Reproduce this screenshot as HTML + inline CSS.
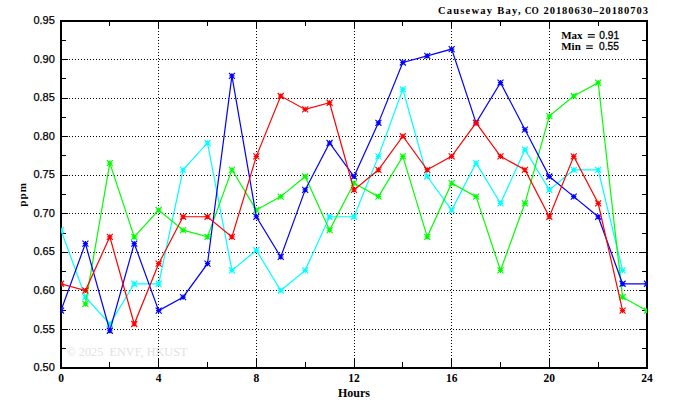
<!DOCTYPE html>
<html><head><meta charset="utf-8"><title>Causeway Bay CO</title><style>html,body{margin:0;padding:0;background:#fff;width:674px;height:409px;overflow:hidden;}svg{display:block;font-family:"Liberation Sans",sans-serif;}</style></head><body>
<svg width="674" height="409" viewBox="0 0 674 409" shape-rendering="auto">
<text x="66.5" y="356.3" font-family="Liberation Serif" font-size="13.3" fill="#e2e2e2" textLength="121" lengthAdjust="spacingAndGlyphs">&#169; 2025&#160;&#160;ENVF, HKUST</text>
<g stroke="#000" stroke-width="1" stroke-dasharray="1 2" shape-rendering="crispEdges"><line x1="158.5" y1="28" x2="158.5" y2="360" /><line x1="256.5" y1="28" x2="256.5" y2="360" /><line x1="354.5" y1="28" x2="354.5" y2="360" /><line x1="451.5" y1="28" x2="451.5" y2="360" /><line x1="549.5" y1="28" x2="549.5" y2="360" /><line x1="69" y1="59.5" x2="640" y2="59.5" /><line x1="69" y1="98.5" x2="640" y2="98.5" /><line x1="69" y1="136.5" x2="640" y2="136.5" /><line x1="69" y1="175.5" x2="640" y2="175.5" /><line x1="69" y1="213.5" x2="640" y2="213.5" /><line x1="69" y1="252.5" x2="640" y2="252.5" /><line x1="69" y1="290.5" x2="640" y2="290.5" /><line x1="69" y1="329.5" x2="640" y2="329.5" /></g>
<g stroke="#000" stroke-width="1" shape-rendering="crispEdges"><line x1="109.5" y1="22" x2="109.5" y2="26" /><line x1="109.5" y1="367" x2="109.5" y2="362" /><line x1="158.5" y1="22" x2="158.5" y2="29" /><line x1="158.5" y1="367" x2="158.5" y2="359" /><line x1="207.5" y1="22" x2="207.5" y2="26" /><line x1="207.5" y1="367" x2="207.5" y2="362" /><line x1="256.5" y1="22" x2="256.5" y2="29" /><line x1="256.5" y1="367" x2="256.5" y2="359" /><line x1="305.5" y1="22" x2="305.5" y2="26" /><line x1="305.5" y1="367" x2="305.5" y2="362" /><line x1="354.5" y1="22" x2="354.5" y2="29" /><line x1="354.5" y1="367" x2="354.5" y2="359" /><line x1="402.5" y1="22" x2="402.5" y2="26" /><line x1="402.5" y1="367" x2="402.5" y2="362" /><line x1="451.5" y1="22" x2="451.5" y2="29" /><line x1="451.5" y1="367" x2="451.5" y2="359" /><line x1="500.5" y1="22" x2="500.5" y2="26" /><line x1="500.5" y1="367" x2="500.5" y2="362" /><line x1="549.5" y1="22" x2="549.5" y2="29" /><line x1="549.5" y1="367" x2="549.5" y2="359" /><line x1="598.5" y1="22" x2="598.5" y2="26" /><line x1="598.5" y1="367" x2="598.5" y2="362" /><line x1="62" y1="40.5" x2="66" y2="40.5" /><line x1="646" y1="40.5" x2="642" y2="40.5" /><line x1="62" y1="59.5" x2="68" y2="59.5" /><line x1="646" y1="59.5" x2="640" y2="59.5" /><line x1="62" y1="78.5" x2="66" y2="78.5" /><line x1="646" y1="78.5" x2="642" y2="78.5" /><line x1="62" y1="98.5" x2="68" y2="98.5" /><line x1="646" y1="98.5" x2="640" y2="98.5" /><line x1="62" y1="117.5" x2="66" y2="117.5" /><line x1="646" y1="117.5" x2="642" y2="117.5" /><line x1="62" y1="136.5" x2="68" y2="136.5" /><line x1="646" y1="136.5" x2="640" y2="136.5" /><line x1="62" y1="155.5" x2="66" y2="155.5" /><line x1="646" y1="155.5" x2="642" y2="155.5" /><line x1="62" y1="175.5" x2="68" y2="175.5" /><line x1="646" y1="175.5" x2="640" y2="175.5" /><line x1="62" y1="194.5" x2="66" y2="194.5" /><line x1="646" y1="194.5" x2="642" y2="194.5" /><line x1="62" y1="213.5" x2="68" y2="213.5" /><line x1="646" y1="213.5" x2="640" y2="213.5" /><line x1="62" y1="233.5" x2="66" y2="233.5" /><line x1="646" y1="233.5" x2="642" y2="233.5" /><line x1="62" y1="252.5" x2="68" y2="252.5" /><line x1="646" y1="252.5" x2="640" y2="252.5" /><line x1="62" y1="271.5" x2="66" y2="271.5" /><line x1="646" y1="271.5" x2="642" y2="271.5" /><line x1="62" y1="290.5" x2="68" y2="290.5" /><line x1="646" y1="290.5" x2="640" y2="290.5" /><line x1="62" y1="310.5" x2="66" y2="310.5" /><line x1="646" y1="310.5" x2="642" y2="310.5" /><line x1="62" y1="329.5" x2="68" y2="329.5" /><line x1="646" y1="329.5" x2="640" y2="329.5" /><line x1="62" y1="348.5" x2="66" y2="348.5" /><line x1="646" y1="348.5" x2="642" y2="348.5" /></g>
<rect x="61" y="21" width="586" height="347" fill="none" stroke="#000" stroke-width="2" shape-rendering="crispEdges"/>
<defs><clipPath id="pc"><rect x="61" y="21" width="586" height="347"/></clipPath></defs><g clip-path="url(#pc)">
<path d="M61.00,230.14 L85.42,297.19 L109.83,324.02 L134.25,283.78 L158.67,283.78 L183.08,169.79 L207.50,142.97 L231.92,270.37 L256.33,250.26 L280.75,290.49 L305.17,270.37 L329.58,216.73 L354.00,216.73 L378.42,156.38 L402.83,89.33 L427.25,176.50 L451.67,210.03 L476.08,163.09 L500.50,203.32 L524.92,149.68 L549.33,189.91 L573.75,169.79 L598.17,169.79 L622.58,270.37" fill="none" stroke="#00ffff" stroke-width="1.2" stroke-linejoin="miter"/>
<path d="M58.40,230.14H63.60M61.00,227.54V232.74M58.00,227.14L64.00,233.14M58.00,233.14L64.00,227.14M82.82,297.19H88.02M85.42,294.59V299.79M82.42,294.19L88.42,300.19M82.42,300.19L88.42,294.19M107.23,324.02H112.43M109.83,321.42V326.62M106.83,321.02L112.83,327.02M106.83,327.02L112.83,321.02M131.65,283.78H136.85M134.25,281.18V286.38M131.25,280.78L137.25,286.78M131.25,286.78L137.25,280.78M156.07,283.78H161.27M158.67,281.18V286.38M155.67,280.78L161.67,286.78M155.67,286.78L161.67,280.78M180.48,169.79H185.68M183.08,167.19V172.39M180.08,166.79L186.08,172.79M180.08,172.79L186.08,166.79M204.90,142.97H210.10M207.50,140.37V145.57M204.50,139.97L210.50,145.97M204.50,145.97L210.50,139.97M229.32,270.37H234.52M231.92,267.77V272.97M228.92,267.37L234.92,273.37M228.92,273.37L234.92,267.37M253.73,250.26H258.93M256.33,247.66V252.86M253.33,247.26L259.33,253.26M253.33,253.26L259.33,247.26M278.15,290.49H283.35M280.75,287.89V293.09M277.75,287.49L283.75,293.49M277.75,293.49L283.75,287.49M302.57,270.37H307.77M305.17,267.77V272.97M302.17,267.37L308.17,273.37M302.17,273.37L308.17,267.37M326.98,216.73H332.18M329.58,214.13V219.33M326.58,213.73L332.58,219.73M326.58,219.73L332.58,213.73M351.40,216.73H356.60M354.00,214.13V219.33M351.00,213.73L357.00,219.73M351.00,219.73L357.00,213.73M375.82,156.38H381.02M378.42,153.78V158.98M375.42,153.38L381.42,159.38M375.42,159.38L381.42,153.38M400.23,89.33H405.43M402.83,86.73V91.93M399.83,86.33L405.83,92.33M399.83,92.33L405.83,86.33M424.65,176.50H429.85M427.25,173.90V179.10M424.25,173.50L430.25,179.50M424.25,179.50L430.25,173.50M449.07,210.03H454.27M451.67,207.43V212.63M448.67,207.03L454.67,213.03M448.67,213.03L454.67,207.03M473.48,163.09H478.68M476.08,160.49V165.69M473.08,160.09L479.08,166.09M473.08,166.09L479.08,160.09M497.90,203.32H503.10M500.50,200.72V205.92M497.50,200.32L503.50,206.32M497.50,206.32L503.50,200.32M522.32,149.68H527.52M524.92,147.08V152.28M521.92,146.68L527.92,152.68M521.92,152.68L527.92,146.68M546.73,189.91H551.93M549.33,187.31V192.51M546.33,186.91L552.33,192.91M546.33,192.91L552.33,186.91M571.15,169.79H576.35M573.75,167.19V172.39M570.75,166.79L576.75,172.79M570.75,172.79L576.75,166.79M595.57,169.79H600.77M598.17,167.19V172.39M595.17,166.79L601.17,172.79M595.17,172.79L601.17,166.79M619.98,270.37H625.18M622.58,267.77V272.97M619.58,267.37L625.58,273.37M619.58,273.37L625.58,267.37" fill="none" stroke="#00ffff" stroke-width="1.15"/>
<path d="M85.42,303.90 L109.83,163.09 L134.25,236.85 L158.67,210.03 L183.08,230.14 L207.50,236.85 L231.92,169.79 L256.33,210.03 L280.75,196.61 L305.17,176.50 L329.58,230.14 L354.00,183.20 L378.42,196.61 L402.83,156.38 L427.25,236.85 L451.67,183.20 L476.08,196.61 L500.50,270.37 L524.92,203.32 L549.33,116.15 L573.75,96.03 L598.17,82.62 L622.58,297.19 L647.00,310.60" fill="none" stroke="#00ff00" stroke-width="1.2" stroke-linejoin="miter"/>
<path d="M82.82,303.90H88.02M85.42,301.30V306.50M82.42,300.90L88.42,306.90M82.42,306.90L88.42,300.90M107.23,163.09H112.43M109.83,160.49V165.69M106.83,160.09L112.83,166.09M106.83,166.09L112.83,160.09M131.65,236.85H136.85M134.25,234.25V239.45M131.25,233.85L137.25,239.85M131.25,239.85L137.25,233.85M156.07,210.03H161.27M158.67,207.43V212.63M155.67,207.03L161.67,213.03M155.67,213.03L161.67,207.03M180.48,230.14H185.68M183.08,227.54V232.74M180.08,227.14L186.08,233.14M180.08,233.14L186.08,227.14M204.90,236.85H210.10M207.50,234.25V239.45M204.50,233.85L210.50,239.85M204.50,239.85L210.50,233.85M229.32,169.79H234.52M231.92,167.19V172.39M228.92,166.79L234.92,172.79M228.92,172.79L234.92,166.79M253.73,210.03H258.93M256.33,207.43V212.63M253.33,207.03L259.33,213.03M253.33,213.03L259.33,207.03M278.15,196.61H283.35M280.75,194.01V199.21M277.75,193.61L283.75,199.61M277.75,199.61L283.75,193.61M302.57,176.50H307.77M305.17,173.90V179.10M302.17,173.50L308.17,179.50M302.17,179.50L308.17,173.50M326.98,230.14H332.18M329.58,227.54V232.74M326.58,227.14L332.58,233.14M326.58,233.14L332.58,227.14M351.40,183.20H356.60M354.00,180.60V185.80M351.00,180.20L357.00,186.20M351.00,186.20L357.00,180.20M375.82,196.61H381.02M378.42,194.01V199.21M375.42,193.61L381.42,199.61M375.42,199.61L381.42,193.61M400.23,156.38H405.43M402.83,153.78V158.98M399.83,153.38L405.83,159.38M399.83,159.38L405.83,153.38M424.65,236.85H429.85M427.25,234.25V239.45M424.25,233.85L430.25,239.85M424.25,239.85L430.25,233.85M449.07,183.20H454.27M451.67,180.60V185.80M448.67,180.20L454.67,186.20M448.67,186.20L454.67,180.20M473.48,196.61H478.68M476.08,194.01V199.21M473.08,193.61L479.08,199.61M473.08,199.61L479.08,193.61M497.90,270.37H503.10M500.50,267.77V272.97M497.50,267.37L503.50,273.37M497.50,273.37L503.50,267.37M522.32,203.32H527.52M524.92,200.72V205.92M521.92,200.32L527.92,206.32M521.92,206.32L527.92,200.32M546.73,116.15H551.93M549.33,113.55V118.75M546.33,113.15L552.33,119.15M546.33,119.15L552.33,113.15M571.15,96.03H576.35M573.75,93.43V98.63M570.75,93.03L576.75,99.03M570.75,99.03L576.75,93.03M595.57,82.62H600.77M598.17,80.02V85.22M595.17,79.62L601.17,85.62M595.17,85.62L601.17,79.62M619.98,297.19H625.18M622.58,294.59V299.79M619.58,294.19L625.58,300.19M619.58,300.19L625.58,294.19M644.40,310.60H649.60M647.00,308.00V313.20M644.00,307.60L650.00,313.60M644.00,313.60L650.00,307.60" fill="none" stroke="#00ff00" stroke-width="1.15"/>
<path d="M61.00,310.60 L85.42,243.55 L109.83,330.72 L134.25,243.55 L158.67,310.60 L183.08,297.19 L207.50,263.67 L231.92,75.92 L256.33,216.73 L280.75,256.96 L305.17,189.91 L329.58,142.97 L354.00,176.50 L378.42,122.86 L402.83,62.51 L427.25,55.80 L451.67,49.10 L476.08,122.86 L500.50,82.62 L524.92,129.56 L549.33,176.50 L573.75,196.61 L598.17,216.73 L622.58,283.78 L647.00,283.78" fill="none" stroke="#0000ff" stroke-width="1.2" stroke-linejoin="miter"/>
<path d="M58.40,310.60H63.60M61.00,308.00V313.20M58.00,307.60L64.00,313.60M58.00,313.60L64.00,307.60M82.82,243.55H88.02M85.42,240.95V246.15M82.42,240.55L88.42,246.55M82.42,246.55L88.42,240.55M107.23,330.72H112.43M109.83,328.12V333.32M106.83,327.72L112.83,333.72M106.83,333.72L112.83,327.72M131.65,243.55H136.85M134.25,240.95V246.15M131.25,240.55L137.25,246.55M131.25,246.55L137.25,240.55M156.07,310.60H161.27M158.67,308.00V313.20M155.67,307.60L161.67,313.60M155.67,313.60L161.67,307.60M180.48,297.19H185.68M183.08,294.59V299.79M180.08,294.19L186.08,300.19M180.08,300.19L186.08,294.19M204.90,263.67H210.10M207.50,261.07V266.27M204.50,260.67L210.50,266.67M204.50,266.67L210.50,260.67M229.32,75.92H234.52M231.92,73.32V78.52M228.92,72.92L234.92,78.92M228.92,78.92L234.92,72.92M253.73,216.73H258.93M256.33,214.13V219.33M253.33,213.73L259.33,219.73M253.33,219.73L259.33,213.73M278.15,256.96H283.35M280.75,254.36V259.56M277.75,253.96L283.75,259.96M277.75,259.96L283.75,253.96M302.57,189.91H307.77M305.17,187.31V192.51M302.17,186.91L308.17,192.91M302.17,192.91L308.17,186.91M326.98,142.97H332.18M329.58,140.37V145.57M326.58,139.97L332.58,145.97M326.58,145.97L332.58,139.97M351.40,176.50H356.60M354.00,173.90V179.10M351.00,173.50L357.00,179.50M351.00,179.50L357.00,173.50M375.82,122.86H381.02M378.42,120.26V125.46M375.42,119.86L381.42,125.86M375.42,125.86L381.42,119.86M400.23,62.51H405.43M402.83,59.91V65.11M399.83,59.51L405.83,65.51M399.83,65.51L405.83,59.51M424.65,55.80H429.85M427.25,53.20V58.40M424.25,52.80L430.25,58.80M424.25,58.80L430.25,52.80M449.07,49.10H454.27M451.67,46.50V51.70M448.67,46.10L454.67,52.10M448.67,52.10L454.67,46.10M473.48,122.86H478.68M476.08,120.26V125.46M473.08,119.86L479.08,125.86M473.08,125.86L479.08,119.86M497.90,82.62H503.10M500.50,80.02V85.22M497.50,79.62L503.50,85.62M497.50,85.62L503.50,79.62M522.32,129.56H527.52M524.92,126.96V132.16M521.92,126.56L527.92,132.56M521.92,132.56L527.92,126.56M546.73,176.50H551.93M549.33,173.90V179.10M546.33,173.50L552.33,179.50M546.33,179.50L552.33,173.50M571.15,196.61H576.35M573.75,194.01V199.21M570.75,193.61L576.75,199.61M570.75,199.61L576.75,193.61M595.57,216.73H600.77M598.17,214.13V219.33M595.17,213.73L601.17,219.73M595.17,219.73L601.17,213.73M619.98,283.78H625.18M622.58,281.18V286.38M619.58,280.78L625.58,286.78M619.58,286.78L625.58,280.78M644.40,283.78H649.60M647.00,281.18V286.38M644.00,280.78L650.00,286.78M644.00,286.78L650.00,280.78" fill="none" stroke="#0000ff" stroke-width="1.15"/>
<path d="M61.00,283.78 L85.42,290.49 L109.83,236.85 L134.25,324.02 L158.67,263.67 L183.08,216.73 L207.50,216.73 L231.92,236.85 L256.33,156.38 L280.75,96.03 L305.17,109.45 L329.58,102.74 L354.00,189.91 L378.42,169.79 L402.83,136.27 L427.25,169.79 L451.67,156.38 L476.08,122.86 L500.50,156.38 L524.92,169.79 L549.33,216.73 L573.75,156.38 L598.17,203.32 L622.58,310.60" fill="none" stroke="#ff0000" stroke-width="1.2" stroke-linejoin="miter"/>
<path d="M58.40,283.78H63.60M61.00,281.18V286.38M58.00,280.78L64.00,286.78M58.00,286.78L64.00,280.78M82.82,290.49H88.02M85.42,287.89V293.09M82.42,287.49L88.42,293.49M82.42,293.49L88.42,287.49M107.23,236.85H112.43M109.83,234.25V239.45M106.83,233.85L112.83,239.85M106.83,239.85L112.83,233.85M131.65,324.02H136.85M134.25,321.42V326.62M131.25,321.02L137.25,327.02M131.25,327.02L137.25,321.02M156.07,263.67H161.27M158.67,261.07V266.27M155.67,260.67L161.67,266.67M155.67,266.67L161.67,260.67M180.48,216.73H185.68M183.08,214.13V219.33M180.08,213.73L186.08,219.73M180.08,219.73L186.08,213.73M204.90,216.73H210.10M207.50,214.13V219.33M204.50,213.73L210.50,219.73M204.50,219.73L210.50,213.73M229.32,236.85H234.52M231.92,234.25V239.45M228.92,233.85L234.92,239.85M228.92,239.85L234.92,233.85M253.73,156.38H258.93M256.33,153.78V158.98M253.33,153.38L259.33,159.38M253.33,159.38L259.33,153.38M278.15,96.03H283.35M280.75,93.43V98.63M277.75,93.03L283.75,99.03M277.75,99.03L283.75,93.03M302.57,109.45H307.77M305.17,106.85V112.05M302.17,106.45L308.17,112.45M302.17,112.45L308.17,106.45M326.98,102.74H332.18M329.58,100.14V105.34M326.58,99.74L332.58,105.74M326.58,105.74L332.58,99.74M351.40,189.91H356.60M354.00,187.31V192.51M351.00,186.91L357.00,192.91M351.00,192.91L357.00,186.91M375.82,169.79H381.02M378.42,167.19V172.39M375.42,166.79L381.42,172.79M375.42,172.79L381.42,166.79M400.23,136.27H405.43M402.83,133.67V138.87M399.83,133.27L405.83,139.27M399.83,139.27L405.83,133.27M424.65,169.79H429.85M427.25,167.19V172.39M424.25,166.79L430.25,172.79M424.25,172.79L430.25,166.79M449.07,156.38H454.27M451.67,153.78V158.98M448.67,153.38L454.67,159.38M448.67,159.38L454.67,153.38M473.48,122.86H478.68M476.08,120.26V125.46M473.08,119.86L479.08,125.86M473.08,125.86L479.08,119.86M497.90,156.38H503.10M500.50,153.78V158.98M497.50,153.38L503.50,159.38M497.50,159.38L503.50,153.38M522.32,169.79H527.52M524.92,167.19V172.39M521.92,166.79L527.92,172.79M521.92,172.79L527.92,166.79M546.73,216.73H551.93M549.33,214.13V219.33M546.33,213.73L552.33,219.73M546.33,219.73L552.33,213.73M571.15,156.38H576.35M573.75,153.78V158.98M570.75,153.38L576.75,159.38M570.75,159.38L576.75,153.38M595.57,203.32H600.77M598.17,200.72V205.92M595.17,200.32L601.17,206.32M595.17,206.32L601.17,200.32M619.98,310.60H625.18M622.58,308.00V313.20M619.58,307.60L625.58,313.60M619.58,313.60L625.58,307.60" fill="none" stroke="#ff0000" stroke-width="1.15"/>
</g>
<g font-family="Liberation Sans" font-size="11" fill="#000" stroke="#000" stroke-width="0.25"><text x="54.8" y="24.10" text-anchor="end">0.95</text><text x="54.8" y="62.66" text-anchor="end">0.90</text><text x="54.8" y="101.21" text-anchor="end">0.85</text><text x="54.8" y="139.77" text-anchor="end">0.80</text><text x="54.8" y="178.32" text-anchor="end">0.75</text><text x="54.8" y="216.88" text-anchor="end">0.70</text><text x="54.8" y="255.43" text-anchor="end">0.65</text><text x="54.8" y="293.99" text-anchor="end">0.60</text><text x="54.8" y="332.54" text-anchor="end">0.55</text><text x="54.8" y="371.10" text-anchor="end">0.50</text></g>
<g font-family="Liberation Serif" font-weight="bold" font-size="11.5" fill="#000"><text x="61.00" y="381.8" text-anchor="middle">0</text><text x="158.67" y="381.8" text-anchor="middle">4</text><text x="256.33" y="381.8" text-anchor="middle">8</text><text x="354.00" y="381.8" text-anchor="middle">12</text><text x="451.67" y="381.8" text-anchor="middle">16</text><text x="549.33" y="381.8" text-anchor="middle">20</text><text x="647.00" y="381.8" text-anchor="middle">24</text></g>
<text x="354" y="396.8" text-anchor="middle" font-family="Liberation Serif" font-weight="bold" font-size="12" fill="#000">Hours</text>
<text transform="translate(26.4,206.8) rotate(-90)" font-family="Liberation Serif" font-weight="bold" font-size="11.2" fill="#000" textLength="24" lengthAdjust="spacing">ppm</text>
<g font-family="Liberation Serif" font-weight="bold" font-size="10.5" fill="#000"><text x="438.0" y="13.7" textLength="54.0" lengthAdjust="spacing">Causeway</text><text x="497.3" y="13.7" textLength="23.3" lengthAdjust="spacing">Bay,</text><text x="524.8" y="13.7" textLength="14.0" lengthAdjust="spacingAndGlyphs">CO</text><text x="543.5" y="13.7" textLength="104.4" lengthAdjust="spacing">20180630&#8211;20180703</text></g>
<g fill="#000"><text x="561.2" y="38.8" font-family="Liberation Serif" font-weight="bold" font-size="11">Max</text><rect x="587.8" y="34.1" width="7" height="1.1"/><rect x="587.8" y="36.6" width="7" height="1.1"/><text x="619.2" y="38.8" font-family="Liberation Sans" font-size="10.2" text-anchor="end" stroke="#000" stroke-width="0.3">0.91</text><text x="561.2" y="49.9" font-family="Liberation Serif" font-weight="bold" font-size="11">Min</text><rect x="586.2" y="45.3" width="6.6" height="1.1"/><rect x="586.2" y="47.8" width="6.6" height="1.1"/><text x="618.8" y="49.9" font-family="Liberation Sans" font-size="10.2" text-anchor="end" stroke="#000" stroke-width="0.3">0.55</text></g>
</svg>
</body></html>
